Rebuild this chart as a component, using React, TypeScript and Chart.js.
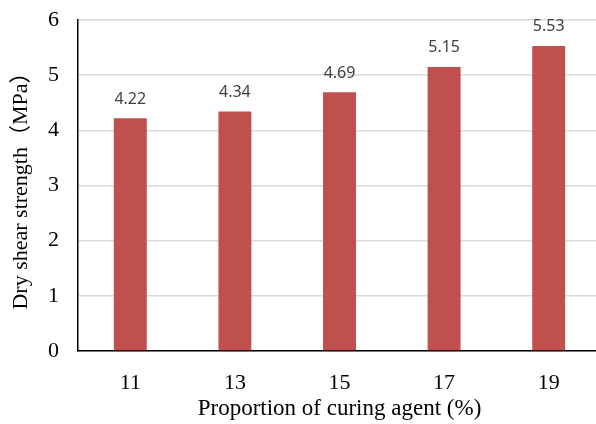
import React, { useEffect, useRef } from "react";
import { Chart, registerables } from "chart.js";

Chart.register(...registerables);

const categories = ["11", "13", "15", "17", "19"];
const strengths = [4.22, 4.34, 4.69, 5.15, 5.53];
const yTicks = [0, 1, 2, 3, 4, 5, 6];

const serif = "'Liberation Serif', 'Times New Roman', 'Noto Sans CJK SC', serif";

const valueLabels = {
  id: "valueLabels",
  afterDatasetsDraw(chart: any) {
    const ctx = chart.ctx;
    const meta = chart.getDatasetMeta(0);
    ctx.save();
    ctx.font = "16px 'Noto Sans', sans-serif";
    ctx.fillStyle = "#404040";
    ctx.textAlign = "center";
    ctx.textBaseline = "middle";
    meta.data.forEach((bar: any, i: number) => {
      ctx.fillText(strengths[i].toFixed(2), bar.x, bar.y - 19);
    });
    ctx.restore();
  },
};

export default function App() {
  const canvasRef = useRef<HTMLCanvasElement | null>(null);

  useEffect(() => {
    const canvas = canvasRef.current;
    if (!canvas) return;
    const chart = new Chart(canvas, {
      type: "bar",
      data: {
        labels: categories,
        datasets: [
          {
            data: strengths,
            backgroundColor: "#C0504D",
            barPercentage: 0.315,
            categoryPercentage: 1,
          },
        ],
      },
      options: {
        responsive: false,
        animation: false,
        layout: { padding: { top: 20, right: 3, bottom: 0, left: 0 } },
        plugins: {
          legend: { display: false },
          tooltip: { enabled: false },
        },
        scales: {
          x: {
            grid: { display: false },
            border: { display: true, color: "#000", width: 1.5 },
            ticks: {
              padding: 11,
              color: "#000",
              font: { family: serif, size: 22 },
            },
            title: {
              display: true,
              text: "Proportion of curing agent (%)",
              color: "#000",
              font: { family: serif, size: 23 },
              padding: { top: 0, bottom: 1 },
            },
            afterFit(scale: any) {
              scale.height = 73;
            },
          },
          y: {
            min: 0,
            max: 6,
            afterBuildTicks(scale: any) {
              scale.ticks = yTicks.map((v) => ({ value: v }));
            },
            grid: { color: "#d9d9d9", lineWidth: 1.5, drawTicks: false },
            border: { display: true, color: "#000", width: 1.5 },
            ticks: {
              padding: 19,
              color: "#000",
              font: { family: serif, size: 22 },
            },
            title: {
              display: true,
              text: "Dry shear strength（MPa）",
              color: "#000",
              font: { family: serif, size: 22 },
              padding: { top: 8, bottom: 0 },
            },
            afterFit(scale: any) {
              scale.width = 78;
              scale.paddingTop = 0;
              scale.paddingBottom = 0;
            },
          },
        },
      },
      plugins: [valueLabels],
    });
    return () => chart.destroy();
  }, []);

  return (
    <div
      style={{
        position: "fixed",
        left: 0,
        top: 0,
        width: 596,
        height: 424,
        overflow: "hidden",
        background: "#fff",
      }}
    >
      <canvas ref={canvasRef} width={604} height={424} style={{ width: 604, height: 424, display: "block" }} />
    </div>
  );
}
